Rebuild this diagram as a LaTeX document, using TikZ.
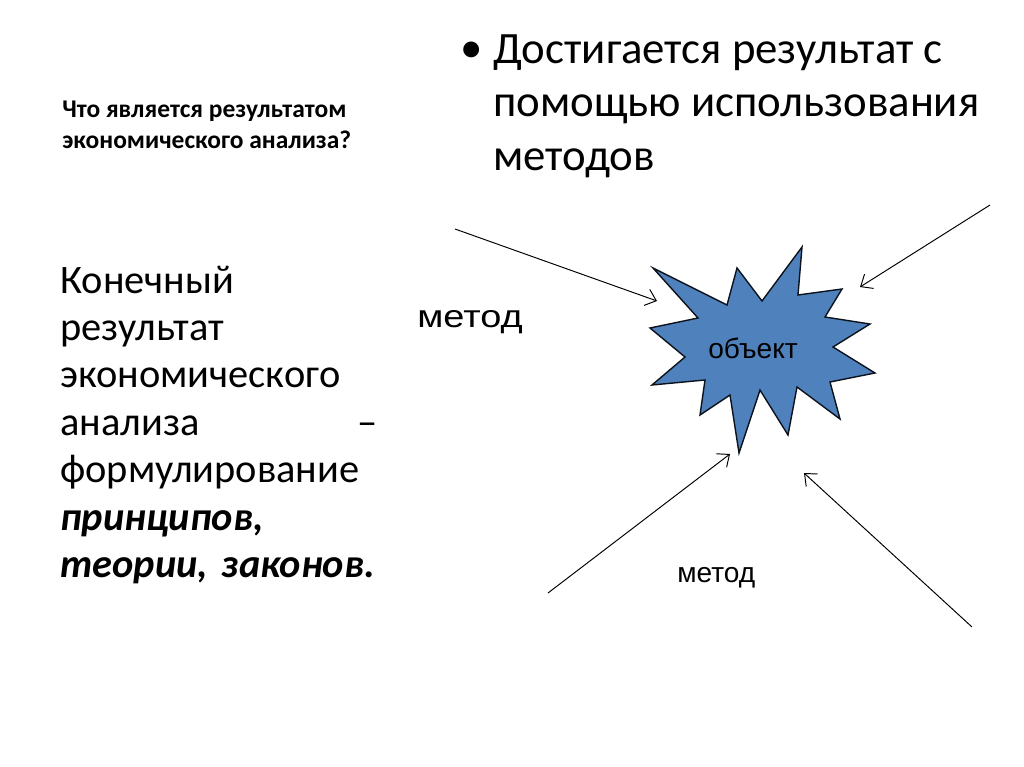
\documentclass[tikz,border=0pt]{standalone}
\usepackage{fontspec}
\setmainfont{Carlito}
\newfontfamily\arialfont{Liberation Sans}
\usepackage{graphicx}
\usetikzlibrary{arrows.meta}
\definecolor{starblue}{RGB}{79,129,189}

\begin{document}
\begin{tikzpicture}[x=0.02cm, y=-0.02cm,
    txt/.style={inner sep=0pt, anchor=base west, align=left},
    lbl/.style={inner sep=0pt, anchor=base west, font=\arialfont\fontsize{16}{19}\selectfont},
    burst/.style={draw=black!85!starblue, fill=starblue, line width=0.8pt, line join=miter},
    arrow/.style={-{Straight Barb[length=2mm, width=3.4mm]}, line width=0.55pt}
]
\useasboundingbox (0,0) rectangle (1024,767);

% Question (anchor = baseline of last line)
\node[txt, font=\bfseries\fontsize{14.5}{18.2}\selectfont] (question) at (62,149)
    {Что является результатом\\экономического анализа?};

% Bullet
\node[txt, font=\fontsize{25.5}{30.3}\selectfont] (dot) at (460,63) {•};
\node[txt, font=\fontsize{25.5}{30.3}\selectfont] (bullet) at (493,170)
    {Достигается результат с\\помощью использования\\методов};

% Answer (text width: anchor = baseline of first line)
\node[txt, text width=6.34cm, font=\fontsize{23}{27}\selectfont] (answer) at (60,293)
    {Конечный\\результат\\экономического\\анализа\hfill –\\формулирование\\
     \textbf{\textit{принципов,}}\\\mbox{\textbf{\textit{теории, законов.}}}};

% Star
\draw[burst] (653,268) -- (727,305) -- (737,268) -- (762,301) -- (802,247)
    -- (798,295) -- (842,289) -- (825,317) -- (870,324) -- (833,347)
    -- (875,373) -- (830,382) -- (840,419) -- (797,387) -- (788,435)
    -- (760,390) -- (739,453) -- (730,395) -- (700,415) -- (705,380)
    -- (652,385) -- (685,357) -- (650,328) -- (698,318) -- cycle;
\node[lbl] (object) at (708,358) {объект};

% Labels
\node[lbl, font=\arialfont\fontsize{18}{21}\selectfont] (method1) at (417,327)
    {\scalebox{1.2}[1]{метод}};
\node[lbl] (method2) at (677,582) {метод};

% Arrow ends
\coordinate (a1) at (455,229);
\coordinate (t1) at (657,301);
\coordinate (a2) at (990,205);
\coordinate (t2) at (860,287);
\coordinate (a3) at (548,593);
\coordinate (t3) at (730,454);
\coordinate (a4) at (972,627);
\coordinate (t4) at (804,473);

% Arrows
\draw[arrow] (a1) -- (t1);
\draw[arrow] (a2) -- (t2);
\draw[arrow] (a3) -- (t3);
\draw[arrow] (a4) -- (t4);

\end{tikzpicture}
\end{document}
